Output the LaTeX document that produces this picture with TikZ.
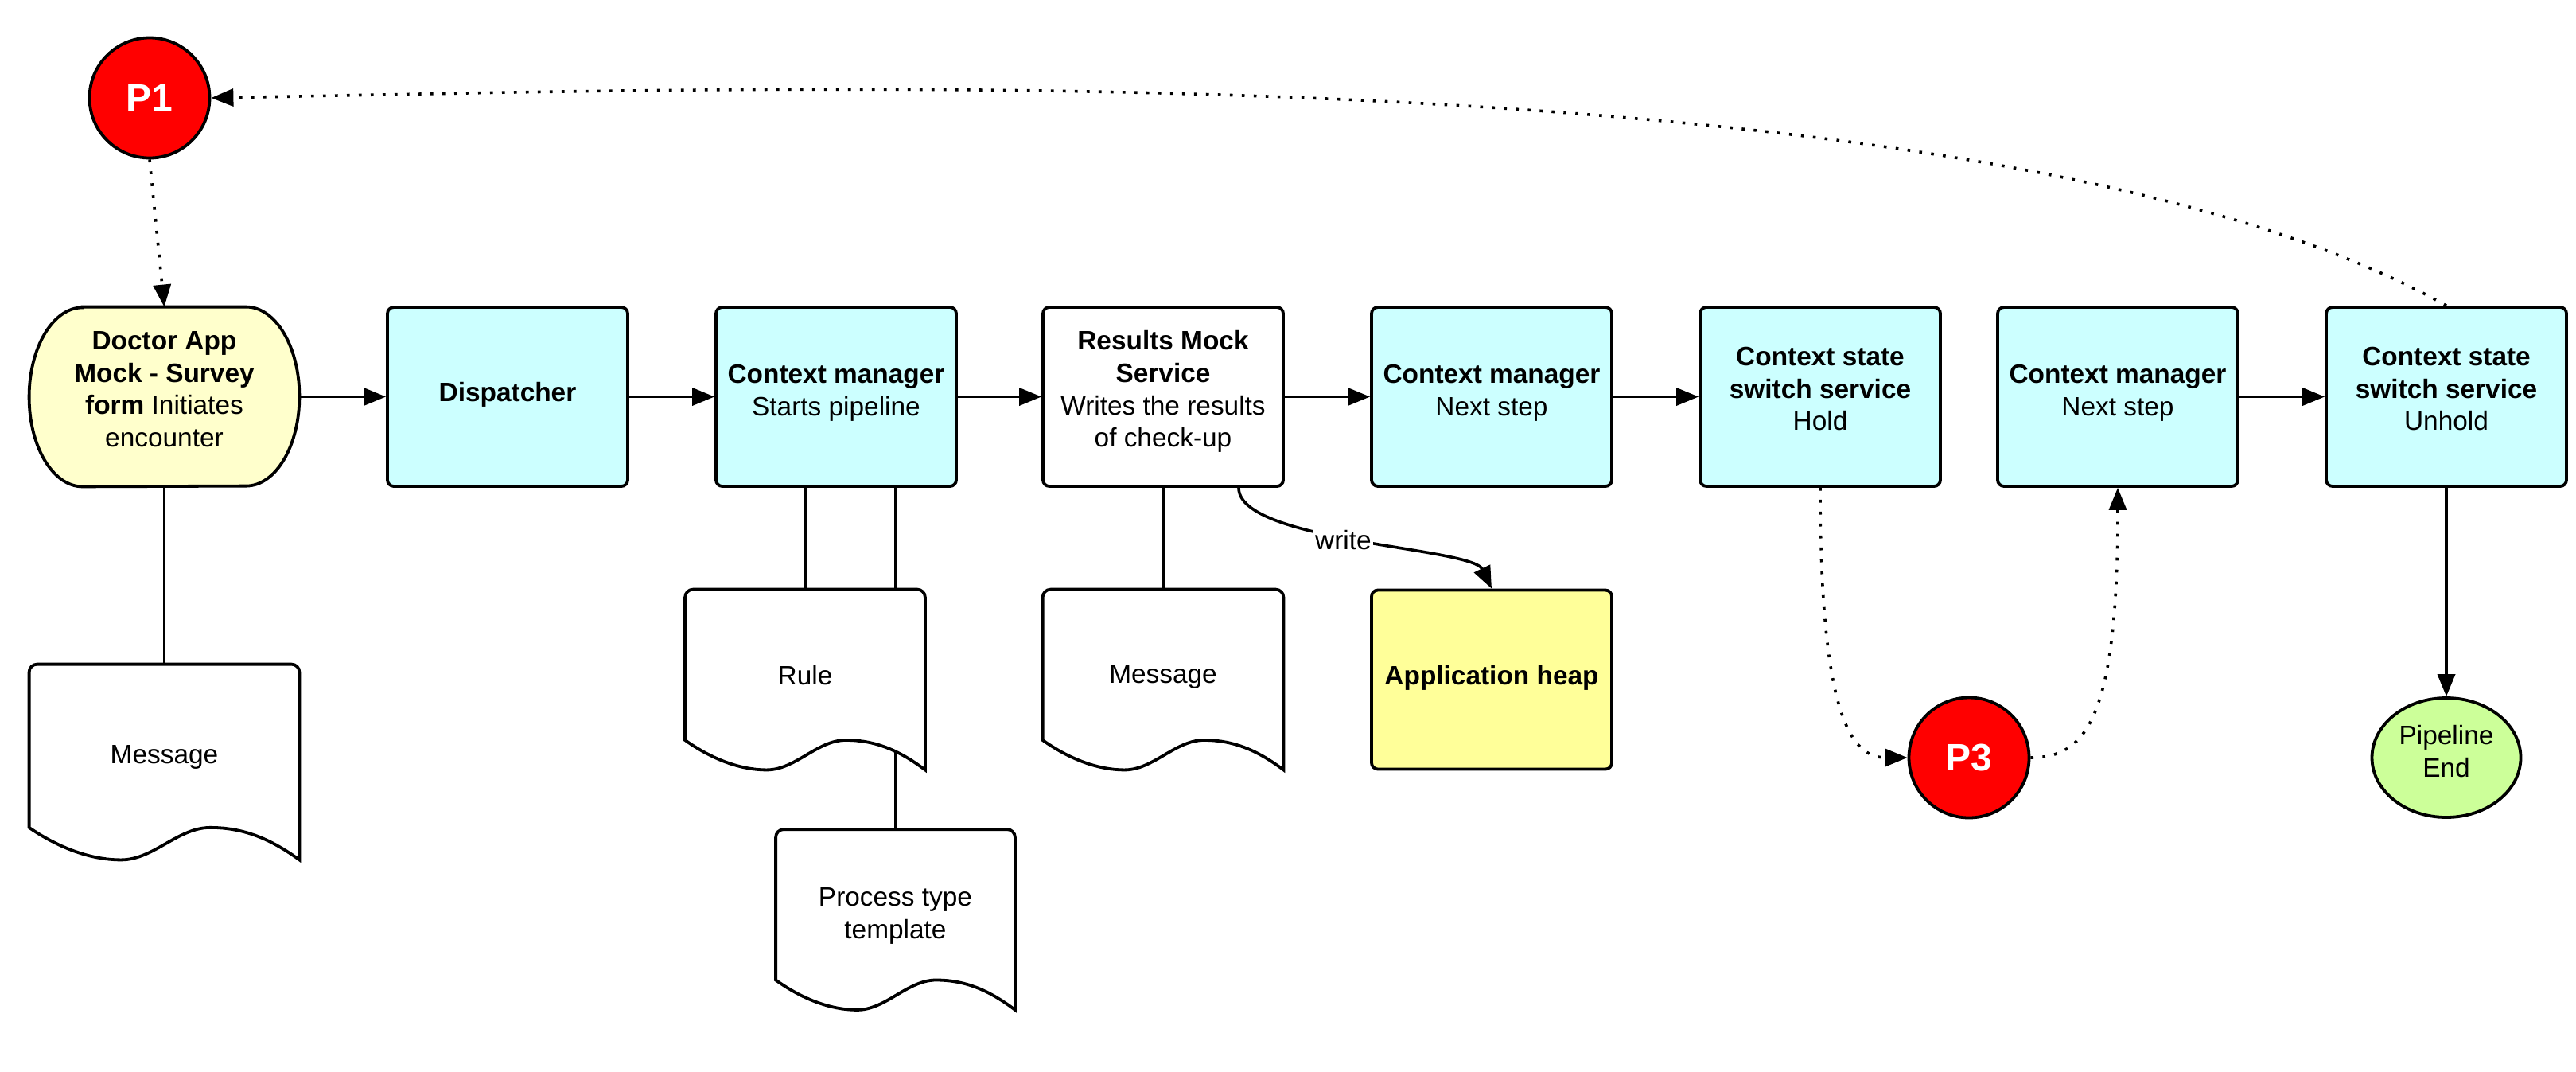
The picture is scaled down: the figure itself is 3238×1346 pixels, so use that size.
\documentclass[tikz,border=0pt]{standalone}
\usepackage{fontspec}
\setmainfont{Liberation Sans}
\usetikzlibrary{arrows.meta,calc,shapes.geometric}
\definecolor{cyanbox}{HTML}{CCFFFF}
\definecolor{docyellow}{HTML}{FFFFCC}
\definecolor{heapyellow}{HTML}{FFFF99}
\definecolor{pred}{HTML}{FF0000}
\definecolor{endgreen}{HTML}{CCFF99}
\newcommand\bodyfont{\fontsize{16.7pt}{20.4pt}\selectfont}
\newcommand\pfont{\fontsize{24pt}{28pt}\selectfont\bfseries}
\pgfdeclarelayer{conn}
\pgfdeclarelayer{shapes}
\pgfsetlayers{conn,shapes,main}
\newcommand\docoutline[1]{%
\draw[docline] let \p1=(#1.north west), \p2=(#1.south east), \n1={\x2-\x1}, \n2={\y1-\y2} in
 (\x1,{\y1-0.4*\n2}) [rounded corners=5pt] -- (\x1,\y1) -- (\x2,\y1) -- (\x2,{\y1-0.5*\n2}) [sharp corners] -- (\x2,\y2)
 .. controls ({\x2-0.1*\n1},{\y2+0.1*\n2}) and ({\x2-0.2*\n1},{\y2+0.165*\n2}) .. ({\x1+0.67*\n1},{\y2+0.165*\n2})
 .. controls ({\x1+0.55*\n1},{\y2+0.165*\n2}) and ({\x1+0.46*\n1},\y2) .. ({\x1+0.34*\n1},\y2)
 .. controls ({\x1+0.22*\n1},\y2) and ({\x1+0.1*\n1},{\y2+0.07*\n2}) .. (\x1,{\y2+0.165*\n2}) -- cycle;}
\begin{document}
\begin{tikzpicture}[x=0.5pt,y=-0.5pt,
  box/.style={draw, line width=1.9pt, rounded corners=4pt, minimum width=151pt, minimum height=112.5pt, align=center, fill=cyanbox, inner sep=2pt, text depth=10pt, font=\bodyfont},
  plain/.style={minimum width=151pt, minimum height=113pt, align=center, inner sep=2pt, font=\bodyfont},
  docline/.style={draw, line width=1.9pt, fill=white},
  conn/.style={line width=1.8pt},
  arr/.style={-{Triangle[length=14pt,width=11pt]}},
  dotline/.style={line width=1.8pt, dash pattern=on 1.8pt off 5.7pt},
  pcirc/.style={circle, draw, line width=1.9pt, fill=pred, minimum size=75.5pt, inner sep=0pt, text=white, font=\pfont}]
\useasboundingbox (0,0) rectangle (3238,1346);

% main row
\node[plain, minimum width=169.5pt, minimum height=112.5pt, text depth=9.5pt] (doctor) at (206.5,498.5) {\textbf{Doctor App}\\\textbf{Mock - Survey}\\\textbf{form} Initiates\\encounter};
\node[box, text depth=6pt] (disp) at (638,498.5) {\textbf{Dispatcher}};
\node[box, text depth=8.5pt] (cm1) at (1051,498.5) {\textbf{Context manager}\\Starts pipeline};
\node[box, fill=white] (res) at (1462,498.5) {\textbf{Results Mock}\\\textbf{Service}\\Writes the results\\of check-up};
\node[box, text depth=8.5pt] (cm2) at (1875,498.5) {\textbf{Context manager}\\Next step};
\node[box] (hold) at (2288,498.5) {\textbf{Context state}\\\textbf{switch service}\\Hold};
\node[box, text depth=8.5pt] (cm3) at (2662,498.5) {\textbf{Context manager}\\Next step};
\node[box] (unhold) at (3075,498.5) {\textbf{Context state}\\\textbf{switch service}\\Unhold};

% circles
\node[pcirc] (p1) at (188,123) {P1};
\node[pcirc] (p3) at (2475,952) {P3};
\node[ellipse, draw, line width=1.9pt, fill=endgreen, minimum width=93.5pt, minimum height=75pt, inner sep=0pt, align=center, text depth=8pt, font=\bodyfont] (pend) at (3075,952) {Pipeline\\End};

% documents and heap
\node[plain, minimum width=169.5pt, minimum height=122.5pt] (msg1) at (206.5,957.5) {};
\node[font=\bodyfont] (msg1text) at (206.5,951) {Message};
\node[plain, minimum width=150.5pt] (rule) at (1012,854) {};
\node[font=\bodyfont] (ruletext) at (1012,849) {Rule};
\node[plain, minimum width=150pt] (proc) at (1125.5,1155.5) {};
\node[font=\bodyfont, align=center] (proctext) at (1125.5,1151) {Process type\\template};
\node[plain] (msg2) at (1462,854) {};
\node[font=\bodyfont] (msg2text) at (1462,850) {Message};
\node[box, fill=heapyellow, text depth=6pt] (heap) at (1875,854) {\textbf{Application heap}};

\begin{pgfonlayer}{shapes}
\docoutline{msg1}
\docoutline{rule}
\docoutline{proc}
\docoutline{msg2}
\draw[line width=1.9pt, fill=docyellow] let \p1=(doctor.north west), \p2=(doctor.south east) in
  ({\x1+33.5pt},\y1) -- ({\x2-33.5pt},\y1) arc[start angle=90, end angle=-90, x radius=33.5pt, y radius=56.25pt]
  -- ({\x1+33.5pt},\y2) arc[start angle=270, end angle=90, x radius=33.5pt, y radius=56.25pt] -- cycle;
\end{pgfonlayer}

\begin{pgfonlayer}{conn}
\draw[conn, arr] (doctor.east) -- (disp.west);
\draw[conn, arr] (disp.east) -- (cm1.west);
\draw[conn, arr] (cm1.east) -- (res.west);
\draw[conn, arr] (res.east) -- (cm2.west);
\draw[conn, arr] (cm2.east) -- (hold.west);
\draw[conn, arr] (cm3.east) -- (unhold.west);
\draw[conn, arr] (unhold.south) -- (pend.north);
\draw[conn] (doctor.south) -- (msg1.north);
\draw[conn] (cm1.south -| rule.north) -- (rule.north);
\draw[conn] (cm1.south -| proc.north) -- (proc.north);
\draw[conn] (res.south) -- (msg2.north);
\draw[conn, arr] ([xshift=47.5pt]res.south) .. controls +(0,68) and +(-25,-52) .. node[pos=0.46, fill=white, inner sep=1pt, font=\bodyfont] {write} (heap.north);
\draw[dotline, arr] (p1.south) -- (doctor.north);
\draw[dotline, arr] (unhold.north) .. controls (2500,60) and (1000,110) .. (p1.east);
\draw[dotline, arr] (hold.south) .. controls +(0,290) and +(-70,0) .. (p3.west);
\draw[dotline, arr] (p3.east) .. controls +(70,0) and +(0,290) .. (cm3.south);
\end{pgfonlayer}
\end{tikzpicture}
\end{document}
